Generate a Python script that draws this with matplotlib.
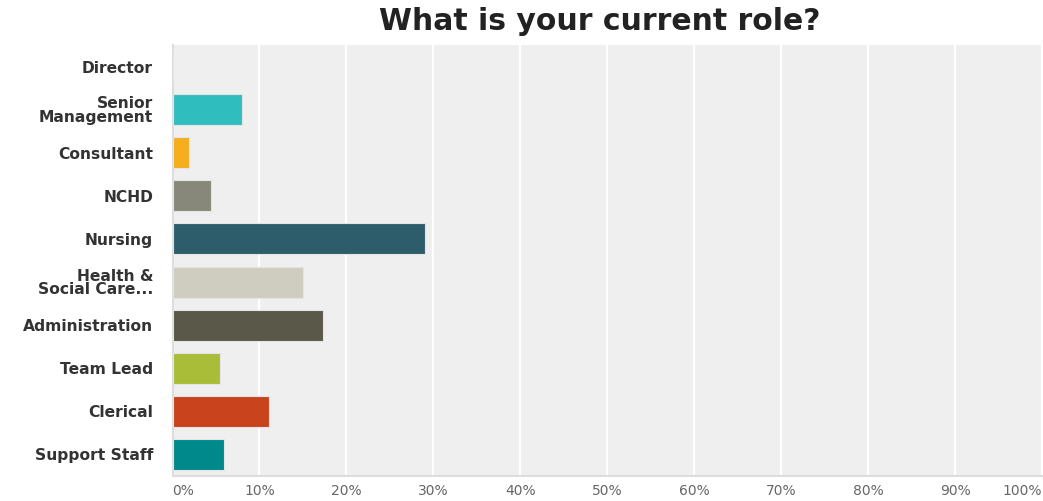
import matplotlib
matplotlib.use("Agg")
import matplotlib.pyplot as plt

# Survey responses: share of respondents per role (%)
roles = ["Director", "Senior\nManagement", "Consultant", "NCHD", "Nursing",
         "Health &\nSocial Care...", "Administration", "Team Lead",
         "Clerical", "Support Staff"]
shares = [0.0, 8.0, 1.9, 4.4, 29.0, 15.0, 17.3, 5.5, 11.1, 5.9]
colors = ["#2fbdbd", "#2fbdbd", "#f5ae1e", "#87877a", "#2d5d6a",
          "#cfcdc0", "#5a5848", "#a9bd38", "#c9441c", "#00898a"]
tick_values = list(range(0, 101, 10))
tick_labels = [f"{v}%" for v in tick_values]

fig = plt.figure(figsize=(10.43, 5.01), dpi=100)
ax = fig.add_axes([172.5 / 1043, 1 - 476 / 501, (1042 - 172.5) / 1043, (476 - 45) / 501])
ax.set_facecolor("#efefef")

y = list(range(len(roles)))
ax.barh(y, shares, height=0.72, color=colors, edgecolor="#e4e4e4",
        linewidth=0.8, zorder=3)

ax.set_xlim(0, 100)
ax.set_ylim(len(roles) - 0.5, -0.5)
ax.set_xticks(tick_values)
ax.grid(axis="x", color="white", linewidth=1.6, zorder=1)
ax.tick_params(axis="both", length=0)

ax.set_yticks(y)
ax.set_yticklabels(roles, fontsize=11.2, fontweight="bold", color="#333333",
                   family="DejaVu Sans", linespacing=0.9)
ax.tick_params(axis="y", pad=14)

ax.set_xticklabels(tick_labels, fontsize=10, color="#666666", family="DejaVu Sans")
ax.tick_params(axis="x", pad=5.5)
xl = ax.get_xticklabels()
xl[0].set_horizontalalignment("left")
xl[-1].set_horizontalalignment("right")

for side in ["top", "right"]:
    ax.spines[side].set_visible(False)
for side in ["left", "bottom"]:
    ax.spines[side].set_color("#dddddd")
    ax.spines[side].set_linewidth(1.5)

fig.text(600 / 1043, 1 - 22 / 501, "What is your current role?", ha="center",
         va="center", fontsize=21.5, family="DejaVu Sans", fontweight="bold",
         color="#222222")

fig.savefig("out.png", dpi=100, facecolor="white")
